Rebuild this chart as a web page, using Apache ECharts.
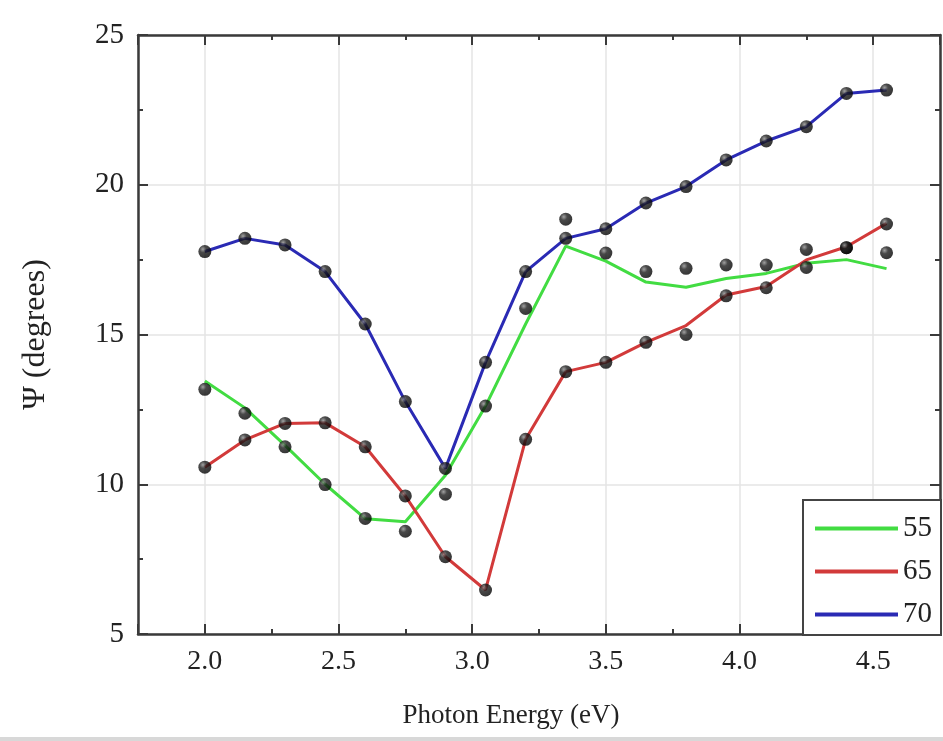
<!DOCTYPE html>
<html>
<head>
<meta charset="utf-8">
<script src="https://cdn.jsdelivr.net/npm/echarts@6/dist/echarts.min.js"></script>
<style>
html,body{margin:0;padding:0;background:#fff;}
#chart{width:943px;height:741px;}
</style>
</head>
<body>
<div id="chart"></div>
<script>
// Photon energy (eV)
const energies = [2.0, 2.15, 2.3, 2.45, 2.6, 2.75, 2.9, 3.05, 3.2, 3.35, 3.5, 3.65, 3.8, 3.95, 4.1, 4.25, 4.4, 4.55];
// Model (fit) curves, Psi in degrees
const fit55 = [13.45, 12.55, 11.3, 10.0, 8.85, 8.75, 10.3, 12.61, 15.35, 17.95, 17.45, 16.75, 16.58, 16.87, 17.04, 17.38, 17.5, 17.2];
const fit65 = [10.57, 11.48, 12.03, 12.05, 11.25, 9.61, 7.58, 6.47, 11.5, 13.76, 14.07, 14.74, 15.3, 16.32, 16.6, 17.49, 17.93, 18.71];
const fit70 = [17.77, 18.21, 17.99, 17.1, 15.35, 12.76, 10.53, 14.07, 17.1, 18.21, 18.53, 19.39, 19.94, 20.83, 21.46, 21.94, 23.05, 23.16];
// Measured points
const exp55 = [13.17, 12.37, 11.25, 9.99, 8.86, 8.43, 9.67, 12.61, 15.87, 18.85, 17.72, 17.1, 17.21, 17.32, 17.32, 17.84, 17.9, 17.73];
const exp65 = [10.57, 11.48, 12.03, 12.05, 11.25, 9.61, 7.58, 6.47, 11.5, 13.76, 14.07, 14.74, 15.0, 16.29, 16.56, 17.24, 17.9, 18.69];
const exp70 = [17.77, 18.21, 17.99, 17.1, 15.35, 12.76, 10.53, 14.07, 17.1, 18.21, 18.53, 19.39, 19.94, 20.83, 21.46, 21.94, 23.05, 23.16];
const seriesNames = ['55', '65', '70'];
const seriesColors = ['#42dc42', '#d23a3a', '#2a2ab4'];
const xLabelName = 'Photon Energy (eV)';
const yLabelName = 'Ψ (degrees)';

const FONT = 'Liberation Serif';
const pair = (xs, ys) => xs.map((x, i) => [x, ys[i]]);

const dotColor = {
  type: 'radial', x: 0.35, y: 0.32, r: 0.75,
  colorStops: [
    { offset: 0, color: '#8a8a8a' },
    { offset: 0.35, color: '#1c1c1c' },
    { offset: 1, color: '#000000' }
  ]
};

const axisLineStyle = { color: '#3a3a3a', width: 2.5 };

function xAxisCfg(pos, showLabel) {
  return {
    type: 'value', position: pos, min: 1.75, max: 4.75,
    minInterval: 0.5, maxInterval: 0.5,
    axisLine: { show: true, onZero: false, lineStyle: axisLineStyle },
    axisTick: { show: true, inside: true, length: 10, lineStyle: { color: '#3a3a3a', width: 2 } },
    minorTick: { show: true, splitNumber: 2, length: 5, lineStyle: { color: '#3a3a3a', width: 2 } },
    axisLabel: {
      show: showLabel, showMinLabel: false, showMaxLabel: false, margin: 14,
      fontFamily: FONT, fontSize: 28, color: '#222',
      formatter: v => v.toFixed(1)
    },
    splitLine: { show: showLabel, lineStyle: { color: '#e4e4e4', width: 1.5 } },
    name: showLabel ? xLabelName : '',
    nameLocation: 'middle', nameGap: 68,
    nameTextStyle: { fontFamily: FONT, fontSize: 27, color: '#222', padding: [0, 56, 0, 0] }
  };
}
function yAxisCfg(pos, showLabel) {
  return {
    type: 'value', position: pos, min: 5, max: 25, interval: 5,
    axisLine: { show: true, onZero: false, lineStyle: axisLineStyle },
    axisTick: { show: true, inside: true, length: 10, lineStyle: { color: '#3a3a3a', width: 2 } },
    minorTick: { show: true, splitNumber: 2, length: 5, lineStyle: { color: '#3a3a3a', width: 2 } },
    axisLabel: { show: showLabel, margin: 14, fontFamily: FONT, fontSize: 29, color: '#222' },
    splitLine: { show: showLabel, lineStyle: { color: '#e4e4e4', width: 1.5 } },
    name: showLabel ? yLabelName : '',
    nameLocation: 'middle', nameGap: 86, nameRotate: 90,
    nameTextStyle: { fontFamily: FONT, fontSize: 32, color: '#222' }
  };
}

const fits = [fit55, fit65, fit70];
const exps = [exp55, exp65, exp70];
const series = [];
fits.forEach((f, i) => {
  series.push({
    name: seriesNames[i], type: 'line', data: pair(energies, f),
    symbol: 'none', smooth: false, z: 3,
    lineStyle: { color: seriesColors[i], width: 3 },
    itemStyle: { color: seriesColors[i] }
  });
});
exps.forEach((e, i) => {
  series.push({
    name: 'exp' + seriesNames[i], type: 'scatter', data: pair(energies, e),
    symbol: 'circle', symbolSize: 13, z: 4,
    itemStyle: { color: dotColor }
  });
});

const chart = echarts.init(document.getElementById('chart'), null, { renderer: 'canvas' });
chart.setOption({
  backgroundColor: '#ffffff',
  animation: false,
  grid: { left: 138, right: 3, top: 35, bottom: 107, containLabel: false },
  xAxis: [xAxisCfg('bottom', true), xAxisCfg('top', false)],
  yAxis: [yAxisCfg('left', true), yAxisCfg('right', false)],
  legend: {
    data: seriesNames, orient: 'vertical', left: 803, top: 500, icon: 'rect',
    padding: [14, 9, 6, 12], itemGap: 14, itemWidth: 83, itemHeight: 4,
    backgroundColor: '#ffffff', borderColor: '#444', borderWidth: 2,
    textStyle: { fontFamily: FONT, fontSize: 29, color: '#222', lineHeight: 28 },
    z: 10
  },
  graphic: [{
    type: 'rect', left: 0, top: 737, shape: { width: 943, height: 4 },
    style: { fill: '#d8d8d8' }, silent: true
  }],
  series: series
});
</script>
</body>
</html>
